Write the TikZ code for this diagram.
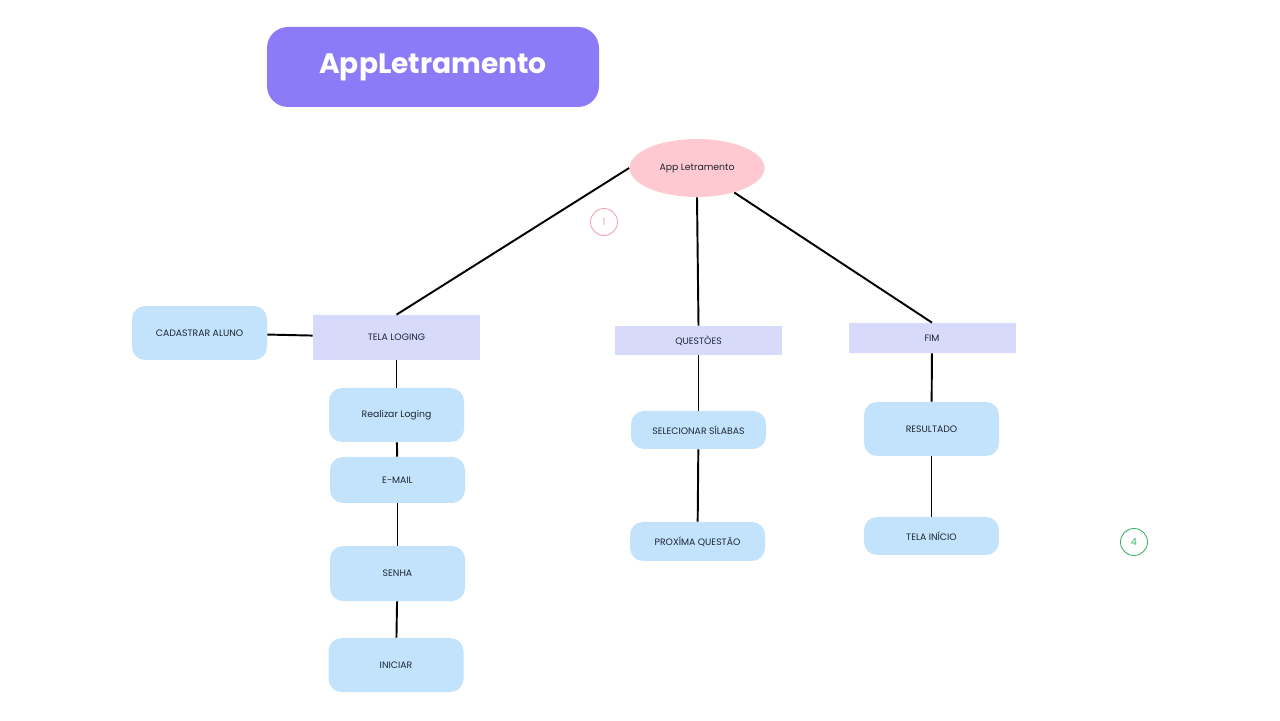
\documentclass[tikz,border=0pt]{standalone}
\usepackage{fontspec}
\setmainfont{Poppins}
\usepackage{tikz}
\usetikzlibrary{shapes.geometric, positioning}
\usepackage{xcolor}
\definecolor{TitleFill}{HTML}{8C7BF7}
\definecolor{RootFill}{HTML}{FFC9D1}
\definecolor{ScreenFill}{HTML}{D7DAFB}
\definecolor{StepFill}{HTML}{C2E3FB}
\definecolor{InkDark}{HTML}{1E2533}
\definecolor{MarkPink}{HTML}{F0A3B0}
\definecolor{MarkGreen}{HTML}{3DB36B}
\tikzset{
  titlebox/.style={fill=TitleFill, rounded corners=0.42cm, minimum width=6.64cm,
    minimum height=1.6cm, text=white, font=\fontsize{16}{18}\selectfont\bfseries},
  rootnode/.style={ellipse, fill=RootFill, minimum width=2.7cm, minimum height=1.16cm,
    inner sep=0pt, text=InkDark, font=\fontsize{5.3}{6}\selectfont},
  screenbox/.style={fill=ScreenFill, minimum width=3.34cm, inner sep=0pt,
    text=InkDark, font=\fontsize{5.3}{6}\selectfont},
  stepbox/.style={fill=StepFill, rounded corners=0.26cm, minimum width=2.7cm,
    inner sep=0pt, text=InkDark, font=\fontsize{5.3}{6}\selectfont},
  markcirc/.style={circle, draw, line width=0.5pt, minimum size=0.54cm, inner sep=0pt,
    font=\fontsize{5.5}{6}\selectfont},
  link/.style={line width=1.1pt, draw=black},
}
\begin{document}
\begin{tikzpicture}
  \useasboundingbox (0,0) rectangle (25.6,14.4);
  % title
  \node[titlebox] (title) at (8.66,13.06) {AppLetramento};
  % root and markers
  \node[rootnode] (app) at (13.94,11.04) {App Letramento};
  \node[markcirc, draw=MarkPink, text=MarkPink] (mone) at (12.08,9.96) {1};
  \node[markcirc, draw=MarkGreen, text=MarkGreen] (mfour) at (22.68,3.56) {4};
  % screens
  \node[screenbox, minimum height=0.9cm] (login) at (7.93,7.65) {TELA LOGING};
  \node[screenbox, minimum height=0.58cm] (quest) at (13.97,7.59) {QUESTÒES};
  \node[screenbox, minimum height=0.6cm] (fim) at (18.64,7.64) {FIM};
  % login branch
  \node[stepbox, minimum height=1.08cm] (cad) at (3.99,7.74) {CADASTRAR ALUNO};
  \node[stepbox, minimum height=1.08cm] (realizar) at (7.93,6.10) {Realizar Loging};
  \node[stepbox, minimum height=0.92cm] (email) at (7.95,4.80) {E-MAIL};
  \node[stepbox, minimum height=1.1cm] (senha) at (7.95,2.93) {SENHA};
  \node[stepbox, minimum height=1.08cm] (iniciar) at (7.92,1.10) {INICIAR};
  % questions branch
  \node[stepbox, minimum height=0.76cm] (silabas) at (13.97,5.80) {SELECIONAR SÍLABAS};
  \node[stepbox, minimum height=0.78cm] (proxima) at (13.95,3.57) {PROXÍMA QUESTÃO};
  % end branch
  \node[stepbox, minimum height=1.08cm] (resultado) at (18.63,5.82) {RESULTADO};
  \node[stepbox, minimum height=0.76cm] (telainicio) at (18.63,3.68) {TELA INÍCIO};
  % links
  \draw[link] (app.west) -- (login.north);
  \draw[link] (app.south) -- (quest.north);
  \draw[link] (app) -- (fim.north);
  \draw[link] (cad) -- (login);
  \draw[link] (login) -- (realizar);
  \draw[link] (realizar) -- (email);
  \draw[link] (email) -- (senha);
  \draw[link] (senha) -- (iniciar);
  \draw[link] (quest) -- (silabas);
  \draw[link] (silabas) -- (proxima);
  \draw[link] (fim) -- (resultado);
  \draw[link] (resultado) -- (telainicio);
\end{tikzpicture}
\end{document}
